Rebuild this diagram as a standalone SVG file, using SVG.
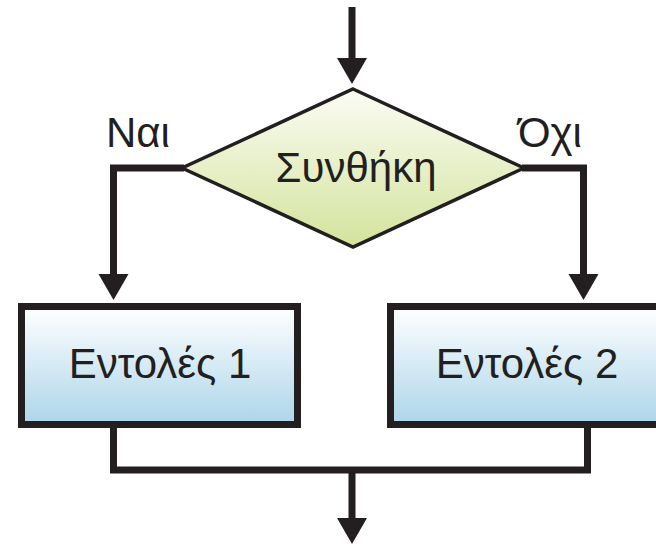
<svg xmlns="http://www.w3.org/2000/svg" xmlns:xlink="http://www.w3.org/1999/xlink" width="656" height="544" viewBox="0 0 656 544">
  <style>
    .lbl { font-family: "Liberation Sans", Arial, sans-serif; font-size: 42px; fill: #231f20; }
    .mid { text-anchor: middle; }
    .wire { fill: none; stroke: #231f20; stroke-width: 7; stroke-linejoin: miter; stroke-linecap: butt; }
    .box { stroke: #231f20; stroke-width: 7; fill: url(#boxFill); }
    .cond { stroke: #231f20; stroke-width: 3.5; fill: url(#condFill); stroke-linejoin: miter; }
    .head { fill: #231f20; }
  </style>
  <defs>
    <linearGradient id="condFill" x1="0" y1="0" x2="0" y2="1">
      <stop offset="0" stop-color="#fbfcf4"/>
      <stop offset="1" stop-color="#d3e39c"/>
    </linearGradient>
    <linearGradient id="boxFill" x1="0" y1="0" x2="0" y2="1">
      <stop offset="0" stop-color="#ffffff"/>
      <stop offset="1" stop-color="#acd5ea"/>
    </linearGradient>
    <!-- downward arrowhead, tip at (0,26) -->
    <path id="ah" class="head" d="M-15,0 L15,0 L0,26 Z"/>
  </defs>

  <!-- decision node -->
  <g id="condition">
    <polygon class="cond" points="353,89 524,168 353,247 182,168"/>
    <text class="lbl mid" x="356" y="182">Συνθήκη</text>
  </g>

  <!-- branch labels -->
  <g id="label-yes">
    <text class="lbl" x="106" y="147">Ναι</text>
  </g>
  <g id="label-no">
    <text class="lbl" x="518" y="147">Όχι</text>
  </g>

  <!-- process nodes -->
  <g id="statements-1">
    <rect class="box" x="21.5" y="306.5" width="276" height="118"/>
    <text class="lbl mid" x="160" y="378">Εντολές 1</text>
  </g>
  <g id="statements-2">
    <rect class="box" x="390.5" y="306.5" width="276" height="118"/>
    <text class="lbl mid" x="527" y="378">Εντολές 2</text>
  </g>

  <!-- connectors -->
  <g id="connectors">
    <path class="wire" d="M352,7 V60"/>
    <use xlink:href="#ah" x="352" y="58"/>

    <path class="wire" d="M184,168 H113.5 V275"/>
    <use xlink:href="#ah" x="113.5" y="274"/>

    <path class="wire" d="M522,168 H583.5 V275"/>
    <use xlink:href="#ah" x="583.5" y="274"/>

    <path class="wire" d="M113.5,428 V470 H587.5 V428"/>
    <path class="wire" d="M352,470 V520"/>
    <use xlink:href="#ah" x="352" y="518"/>
  </g>
</svg>
